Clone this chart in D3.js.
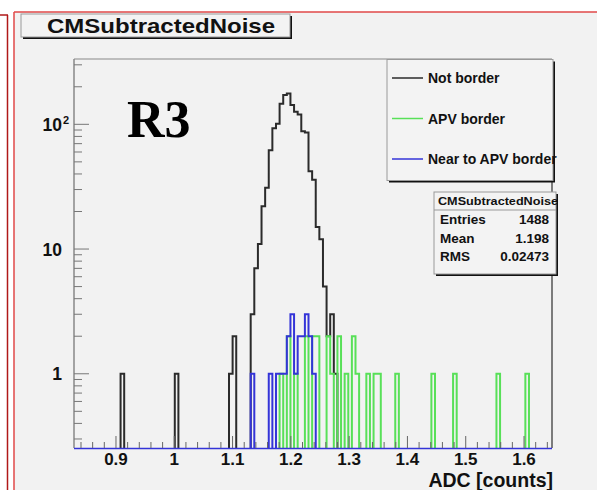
<!DOCTYPE html>
<html><head><meta charset="utf-8">
<script src="https://cdn.jsdelivr.net/npm/d3@7"></script>
<style>
body{margin:0;background:#fff}
svg{display:block}
text{font-family:"Liberation Sans",Arial,Helvetica,sans-serif;font-weight:bold;fill:#111}
</style>
</head><body>
<svg id="c" width="597" height="490"></svg>
<script>
// ---------------- data ----------------
const binWidth = 0.0062;           // histogram bin width (ADC)
const xDomain = [0.828, 1.648];
const yDomain = [0.254, 334];
const xTickLabels = [0.9, 1, 1.1, 1.2, 1.3, 1.4, 1.5, 1.6];
const yTickLabels = [1, 10, 100];

// "Not border" (black)
const notBorderX = [0.9110, 1.0040, 1.0970, 1.1032,
  1.1342, 1.1404, 1.1466, 1.1528, 1.1590, 1.1652, 1.1714, 1.1776, 1.1838, 1.1900,
  1.1962, 1.2024, 1.2086, 1.2148, 1.2210, 1.2272, 1.2334, 1.2396, 1.2458, 1.2520,
  1.2582, 1.2644, 1.2706, 1.2768];
const notBorderN = [1, 1, 1, 2,
  3, 7, 11, 22, 31, 62, 93, 101, 146, 172,
  177, 143, 126, 120, 88, 86, 42, 36, 15, 12,
  5, 2, 3, 1];

// "APV border" (green)
const apvBorderX = [1.1838, 1.1962, 1.2086, 1.2272, 1.2396, 1.2458, 1.2644, 1.2706,
  1.2830, 1.2954, 1.3078, 1.3140, 1.3326, 1.3450, 1.3512, 1.3822, 1.4442, 1.4814,
  1.5558, 1.6054];
const apvBorderN = [1, 2, 1, 2, 2, 2, 2, 1,
  2, 1, 2, 1, 1, 1, 1, 1, 1, 1,
  1, 1];

// "Near to APV border" (blue)
const nearApvX = [1.1342, 1.1652, 1.1776, 1.1838, 1.1900, 1.1962, 1.2024, 1.2086,
  1.2148, 1.2210, 1.2272, 1.2334, 1.2396];
const nearApvN = [1, 1, 1, 1, 1, 2, 3, 1, 2, 2, 3, 2, 1];

const legendLabels = ["Not border", "APV border", "Near to APV border"];
const seriesColors = ["#2b2b2b", "#58e058", "#3434d8"];
const statsLabels = ["Entries", "Mean", "RMS"];
const statsValues = ["1488", "1.198", "0.02473"];

// ---------------- drawing ----------------
const svg = d3.select("#c");
const W = 597, H = 490;
const frame = {l: 74, r: 552, t: 59, b: 448};

// background
svg.append("rect").attr("width", W).attr("height", H).attr("fill", "#ffffff");
svg.append("rect").attr("x", 14).attr("y", 12).attr("width", W - 14).attr("height", H - 12).attr("fill", "#f2f2f2");
// red panel borders
svg.append("line").attr("x1", 7.5).attr("x2", 7.5).attr("y1", 15).attr("y2", H).attr("stroke", "#b01818").attr("stroke-width", 1.5);
svg.append("line").attr("x1", 0).attr("x2", 8).attr("y1", 15).attr("y2", 15).attr("stroke", "#b01818").attr("stroke-width", 1.5);
svg.append("line").attr("x1", 14).attr("x2", 14).attr("y1", 12).attr("y2", H).attr("stroke", "#e04848").attr("stroke-width", 1.5);
svg.append("line").attr("x1", 14).attr("x2", W).attr("y1", 12).attr("y2", 12).attr("stroke", "#e04848").attr("stroke-width", 1.5);

const x = d3.scaleLinear().domain(xDomain).range([frame.l, frame.r]);
const y = d3.scaleLog().domain(yDomain).range([frame.b, frame.t]);

// clip
svg.append("clipPath").attr("id", "clip").append("rect")
  .attr("x", frame.l).attr("y", frame.t).attr("width", frame.r - frame.l).attr("height", frame.b - frame.t);

// histogram step paths
function histPath(xs, ns) {
  const origin = xs[0] - binWidth / 2;
  const i0 = Math.floor((xDomain[0] - origin) / binWidth) - 1;
  const i1 = Math.ceil((xDomain[1] - origin) / binWidth) + 1;
  const counts = new Map();
  xs.forEach((c, k) => counts.set(Math.round((c - origin) / binWidth - 0.5), ns[k]));
  const pts = [];
  for (let i = i0; i <= i1; i++) {
    const lo = origin + i * binWidth, hi = lo + binWidth;
    const v = counts.get(i) || 0;
    const yy = v > 0 ? y(v) : frame.b + 1;
    pts.push([x(lo), yy], [x(hi), yy]);
  }
  return d3.line()(pts);
}
const g = svg.append("g").attr("clip-path", "url(#clip)");
[[notBorderX, notBorderN], [apvBorderX, apvBorderN], [nearApvX, nearApvN]].forEach((s, k) => {
  g.append("path").attr("d", histPath(s[0], s[1])).attr("fill", "none")
    .attr("stroke", seriesColors[k]).attr("stroke-width", 2).attr("stroke-linejoin", "miter");
});

// frame
svg.append("line").attr("x1", frame.l).attr("x2", frame.r).attr("y1", frame.t).attr("y2", frame.t).attr("stroke", "#888").attr("stroke-width", 1.2);
svg.append("line").attr("x1", frame.r).attr("x2", frame.r).attr("y1", frame.t).attr("y2", frame.b).attr("stroke", "#555").attr("stroke-width", 1.5);
svg.append("line").attr("x1", frame.l).attr("x2", frame.l).attr("y1", frame.t).attr("y2", frame.b).attr("stroke", "#888").attr("stroke-width", 1.5);
svg.append("line").attr("x1", frame.l).attr("x2", frame.r).attr("y1", frame.b + 0.5).attr("y2", frame.b + 0.5).attr("stroke", seriesColors[2]).attr("stroke-width", 1.5);

// x axis ticks (upward)
const xMinor = d3.range(0.84, 1.645, 0.02).map(v => +v.toFixed(2));
const xa = svg.append("g");
xMinor.forEach(v => {
  const major = Math.abs(v * 10 - Math.round(v * 10)) < 1e-6;
  xa.append("line").attr("x1", x(v)).attr("x2", x(v)).attr("y1", frame.b).attr("y2", frame.b - (major ? 12 : 6))
    .attr("stroke", "#666").attr("stroke-width", 1);
});
xTickLabels.forEach(v => {
  xa.append("text").attr("x", x(v)).attr("y", 465).attr("text-anchor", "middle").attr("font-size", 17).text(d3.format("")(v));
});
svg.append("text").attr("x", 553).attr("y", 486.5).attr("text-anchor", "end").attr("font-size", 19.5).text("ADC [counts]");

// y axis ticks (rightward)
const ya = svg.append("g");
const yMinor = [];
[0.1, 1, 10, 100].forEach(d => { for (let m = 1; m <= 9; m++) yMinor.push(d * m); });
yMinor.filter(v => v >= yDomain[0] && v <= yDomain[1]).forEach(v => {
  const major = yTickLabels.some(t => Math.abs(t - v) < 1e-9);
  ya.append("line").attr("x1", frame.l).attr("x2", frame.l + (major ? 15 : 8)).attr("y1", y(v)).attr("y2", y(v))
    .attr("stroke", "#777").attr("stroke-width", 1);
});
yTickLabels.forEach(v => {
  if (v === 100) {
    ya.append("text").attr("x", 62).attr("y", y(v) + 6.5).attr("text-anchor", "end").attr("font-size", 17.5).text("10");
    ya.append("text").attr("x", 63).attr("y", y(v) - 0.5).attr("text-anchor", "start").attr("font-size", 11).text("2");
  } else {
    ya.append("text").attr("x", 62).attr("y", y(v) + 6.5).attr("text-anchor", "end").attr("font-size", 17.5).text(String(v));
  }
});

// title box
function shadowBox(x0, y0, w, h) {
  svg.append("rect").attr("x", x0 + 2).attr("y", y0 + 2).attr("width", w).attr("height", h).attr("fill", "#111");
  svg.append("rect").attr("x", x0).attr("y", y0).attr("width", w).attr("height", h).attr("fill", "#f3f3f3")
    .attr("stroke", "#999").attr("stroke-width", 1);
}
shadowBox(21, 14, 269, 23);
svg.append("text").attr("x", 47).attr("y", 32.5).attr("font-size", 20.5).attr("textLength", 228)
  .attr("lengthAdjust", "spacingAndGlyphs").text("CMSubtractedNoise");

// R3 label
svg.append("text").attr("x", 127).attr("y", 137).attr("font-size", 52)
  .style("font-family", "'Liberation Serif','Times New Roman',serif").style("fill", "#000").text("R3");

// legend
shadowBox(387, 59.5, 166, 121);
legendLabels.forEach((t, k) => {
  const ly = 78 + k * 40.5;
  svg.append("line").attr("x1", 392).attr("x2", 423).attr("y1", ly).attr("y2", ly)
    .attr("stroke", seriesColors[k]).attr("stroke-width", 1.5);
  svg.append("text").attr("x", 428).attr("y", ly + 5).attr("font-size", 14).text(t);
});

// stats box
shadowBox(434, 192, 122, 82);
svg.append("line").attr("x1", 434).attr("x2", 556).attr("y1", 210).attr("y2", 210).attr("stroke", "#999");
svg.append("text").attr("x", 438).attr("y", 204.5).attr("font-size", 11).attr("textLength", 120)
  .attr("lengthAdjust", "spacingAndGlyphs").text("CMSubtractedNoise");
statsLabels.forEach((t, k) => {
  const sy = 224 + k * 18.5;
  svg.append("text").attr("x", 440).attr("y", sy).attr("font-size", 13.5).text(t);
  svg.append("text").attr("x", 549).attr("y", sy).attr("text-anchor", "end").attr("font-size", 13.5).text(statsValues[k]);
});
</script>
</body></html>
